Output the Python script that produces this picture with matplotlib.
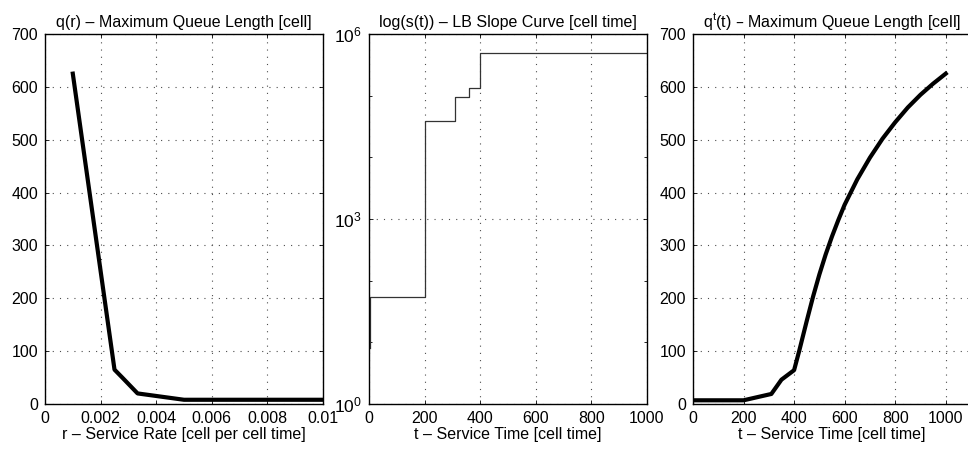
import math
import matplotlib
matplotlib.use("Agg")
import matplotlib.pyplot as plt
from matplotlib.ticker import FixedLocator, FuncFormatter

plt.rcParams['font.family'] = ['Liberation Sans', 'DejaVu Sans']
plt.rcParams['mathtext.default'] = 'regular'
plt.rcParams['font.size'] = 11.5

# q(r) - max queue length vs service rate
rate = [0.001, 0.0025, 0.00278, 0.00333, 0.005, 0.01]
q_rate = [625, 65, 50, 20, 8, 8]

# s(t) - LB slope curve (step)
t_slope = [5, 5, 200, 310, 360, 400, 1000]
s_slope = [8, 55, 39400, 95300, 132000, 486000, 486000]

# q^t(t) - max queue length vs service time
t_q = [0, 200, 310, 350, 400, 420, 450, 475, 500, 525, 550, 575, 600,
       650, 700, 750, 800, 850, 900, 950, 1000]
q_t = [7, 7, 19, 46, 64, 100, 157, 203, 245, 283, 317, 348, 377,
       425, 466, 502, 533, 561, 585, 606, 625]

fig = plt.figure(figsize=(9.68, 4.49), dpi=100)

W = 278 / 968
H = 370 / 449
B = 1 - 404 / 449

grid_kw = dict(color='0.3', linestyle=(0, (1, 5.5)), linewidth=0.8)


def style(ax):
    ax.tick_params(direction='in', length=3, width=0.6, top=True, right=True,
                   labelsize=11.5, pad=5)
    ax.tick_params(which='minor', direction='in', length=2, width=0.6, top=True, right=True)
    for sp in ax.spines.values():
        sp.set_linewidth(1.0)
    ax.grid(True, which='major', **grid_kw)


# panel 1
ax1 = fig.add_axes([45 / 968, B, W, H])
ax1.plot(rate, q_rate, color='k', linewidth=3)
ax1.set_xlim(0, 0.01)
ax1.set_ylim(0, 700)
ax1.xaxis.set_major_locator(FixedLocator([0, 0.002, 0.004, 0.006, 0.008, 0.01]))
ax1.xaxis.set_major_formatter(FuncFormatter(lambda v, p: '%g' % round(v, 4)))
ax1.yaxis.set_major_locator(FixedLocator(range(0, 701, 100)))
ax1.set_xlabel('r – Service Rate [cell per cell time]', labelpad=1)
ax1.set_title('q(r) – Maximum Queue Length [cell]', fontsize=11.5, pad=5)
style(ax1)

# panel 2
ax2 = fig.add_axes([369 / 968, B, W, H])
ax2.plot(t_slope, s_slope, color='0.2', linewidth=0.9, drawstyle='steps-post')
ax2.set_yscale('log')
ax2.set_xlim(0, 1000)
ax2.set_ylim(1, 1e6)
ax2.xaxis.set_major_locator(FixedLocator(range(0, 1001, 200)))
ax2.yaxis.set_major_locator(FixedLocator([1, 1e3, 1e6]))
ax2.yaxis.set_minor_locator(FixedLocator([10, 100, 1e4, 1e5]))
ax2.yaxis.set_major_formatter(FuncFormatter(lambda v, p: '$10^{%d}$' % round(math.log10(v))))
ax2.yaxis.set_minor_formatter(FuncFormatter(lambda v, p: ''))
ax2.set_xlabel('t – Service Time [cell time]', labelpad=1)
ax2.set_title('log(s(t)) – LB Slope Curve [cell time]', fontsize=11.5, pad=5)
style(ax2)
ax2.tick_params(axis='y', labelsize=12.5)

# panel 3
ax3 = fig.add_axes([693 / 968, B, W, H])
ax3.plot(t_q, q_t, color='k', linewidth=3)
ax3.set_xlim(0, 1100)
ax3.set_ylim(0, 700)
ax3.xaxis.set_major_locator(FixedLocator(range(0, 1001, 200)))
ax3.yaxis.set_major_locator(FixedLocator(range(0, 701, 100)))
ax3.set_xlabel('t – Service Time [cell time]', labelpad=1)
ax3.set_title('q$^{t}$(t) – Maximum Queue Length [cell]', fontsize=11.5, pad=5)
style(ax3)

fig.savefig('out.png', dpi=100)
